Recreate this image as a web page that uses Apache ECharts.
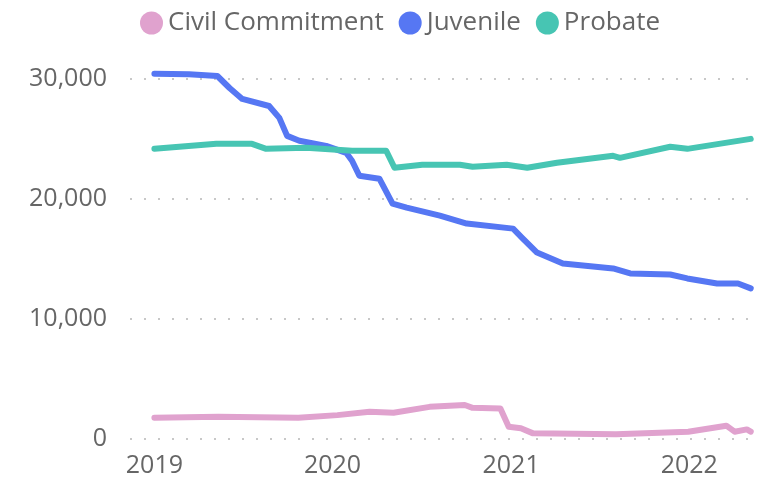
<!DOCTYPE html>
<html>
<head>
<meta charset="utf-8">
<script src="https://cdn.jsdelivr.net/npm/echarts@6/dist/echarts.min.js"></script>
<style>
  html, body { margin: 0; padding: 0; background: #fff; }
  #chart { width: 776px; height: 483px; }
</style>
</head>
<body>
<div id="chart"></div>
<script>
// values (approx.)
const yTicks = [0, 10000, 20000, 30000]
const seriesNames = ["Civil Commitment", "Juvenile", "Probate"]
const seriesColors = ["#E0A2CE", "#5677F3", "#47C5B3"]

const civilDates = ["2019-01-01", "2019-05-12", "2019-10-23", "2020-01-11", "2020-03-17", "2020-05-05", "2020-07-18", "2020-09-28", "2020-10-14", "2020-12-10", "2020-12-27", "2021-01-21", "2021-02-15", "2021-08-04", "2021-12-30", "2022-03-18", "2022-04-04", "2022-04-29", "2022-05-07"]
const civilValues = [1770, 1850, 1770, 1990, 2270, 2190, 2680, 2830, 2600, 2550, 1020, 890, 470, 390, 610, 1110, 610, 800, 610]

const juvenileDates = ["2019-01-01", "2019-03-13", "2019-05-10", "2019-06-04", "2019-06-30", "2019-08-24", "2019-09-14", "2019-09-30", "2019-10-25", "2019-12-19", "2020-01-29", "2020-02-10", "2020-02-25", "2020-04-06", "2020-05-03", "2020-06-01", "2020-08-08", "2020-10-02", "2021-01-05", "2021-01-23", "2021-02-23", "2021-04-17", "2021-07-29", "2021-09-02", "2021-11-23", "2021-12-28", "2022-02-27", "2022-04-11", "2022-05-07"]
const juvenileValues = [30440, 30400, 30250, 29250, 28340, 27750, 26760, 25260, 24850, 24430, 23850, 23190, 21940, 21690, 19610, 19280, 18610, 17950, 17530, 16790, 15540, 14630, 14210, 13800, 13710, 13380, 12960, 12960, 12550]

const probateDates = ["2019-01-01", "2019-05-08", "2019-07-20", "2019-08-18", "2019-11-08", "2020-02-10", "2020-04-20", "2020-05-07", "2020-07-03", "2020-09-18", "2020-10-14", "2020-12-23", "2021-02-03", "2021-04-05", "2021-07-29", "2021-08-12", "2021-11-23", "2021-12-28", "2022-05-07"]
const probateValues = [24180, 24600, 24600, 24180, 24270, 24020, 24020, 22600, 22850, 22850, 22690, 22850, 22600, 23020, 23600, 23430, 24350, 24180, 25010]

const allDates = [civilDates, juvenileDates, probateDates]
const allValues = [civilValues, juvenileValues, probateValues]

const YEAR = 365 * 24 * 3600 * 1000
const fontFamily = '"Segoe UI", "Open Sans", sans-serif'

function withCommas(v) {
  return String(v).replace(/\B(?=(\d{3})+(?!\d))/g, ",")
}

let myChart = echarts.init(document.getElementById("chart"))

myChart.setOption({
  animation: false,
  textStyle: { fontFamily: fontFamily },
  legend: {
    left: 135,
    top: 5,
    icon: "circle",
    itemWidth: 23,
    itemHeight: 23,
    itemGap: 15,
    textStyle: {
      fontSize: 26,
      color: "#666",
      fontFamily: fontFamily,
    },
    data: seriesNames,
  },
  grid: {
    left: 130,
    right: 16,
    top: 79,
    bottom: 44,
  },
  xAxis: {
    type: "time",
    min: "2018-11-12",
    max: "2022-05-26",
    minInterval: YEAR,
    maxInterval: YEAR,
    axisLine: { show: false },
    axisTick: { show: false },
    splitLine: { show: false },
    axisLabel: {
      formatter: "{yyyy}",
      fontSize: 25,
      color: "#666",
      margin: 14,
      fontFamily: fontFamily,
    },
  },
  yAxis: {
    type: "value",
    min: yTicks[0],
    max: yTicks[yTicks.length - 1],
    interval: yTicks[1] - yTicks[0],
    axisLine: { show: false },
    axisTick: { show: false },
    axisLabel: {
      formatter: withCommas,
      fontSize: 25,
      color: "#666",
      margin: 23,
      fontFamily: fontFamily,
    },
    splitLine: {
      lineStyle: {
        color: "#c8c8c8",
        width: 2,
        type: [2, 12],
      },
    },
  },
  series: seriesNames.map((name, i) => ({
    name: name,
    type: "line",
    clip: false,
    showSymbol: false,
    symbol: "none",
    color: seriesColors[i],
    lineStyle: {
      width: 6,
      cap: "round",
      join: "round",
    },
    data: allDates[i].map((d, j) => [d, allValues[i][j]]),
  })),
})
</script>
</body>
</html>
